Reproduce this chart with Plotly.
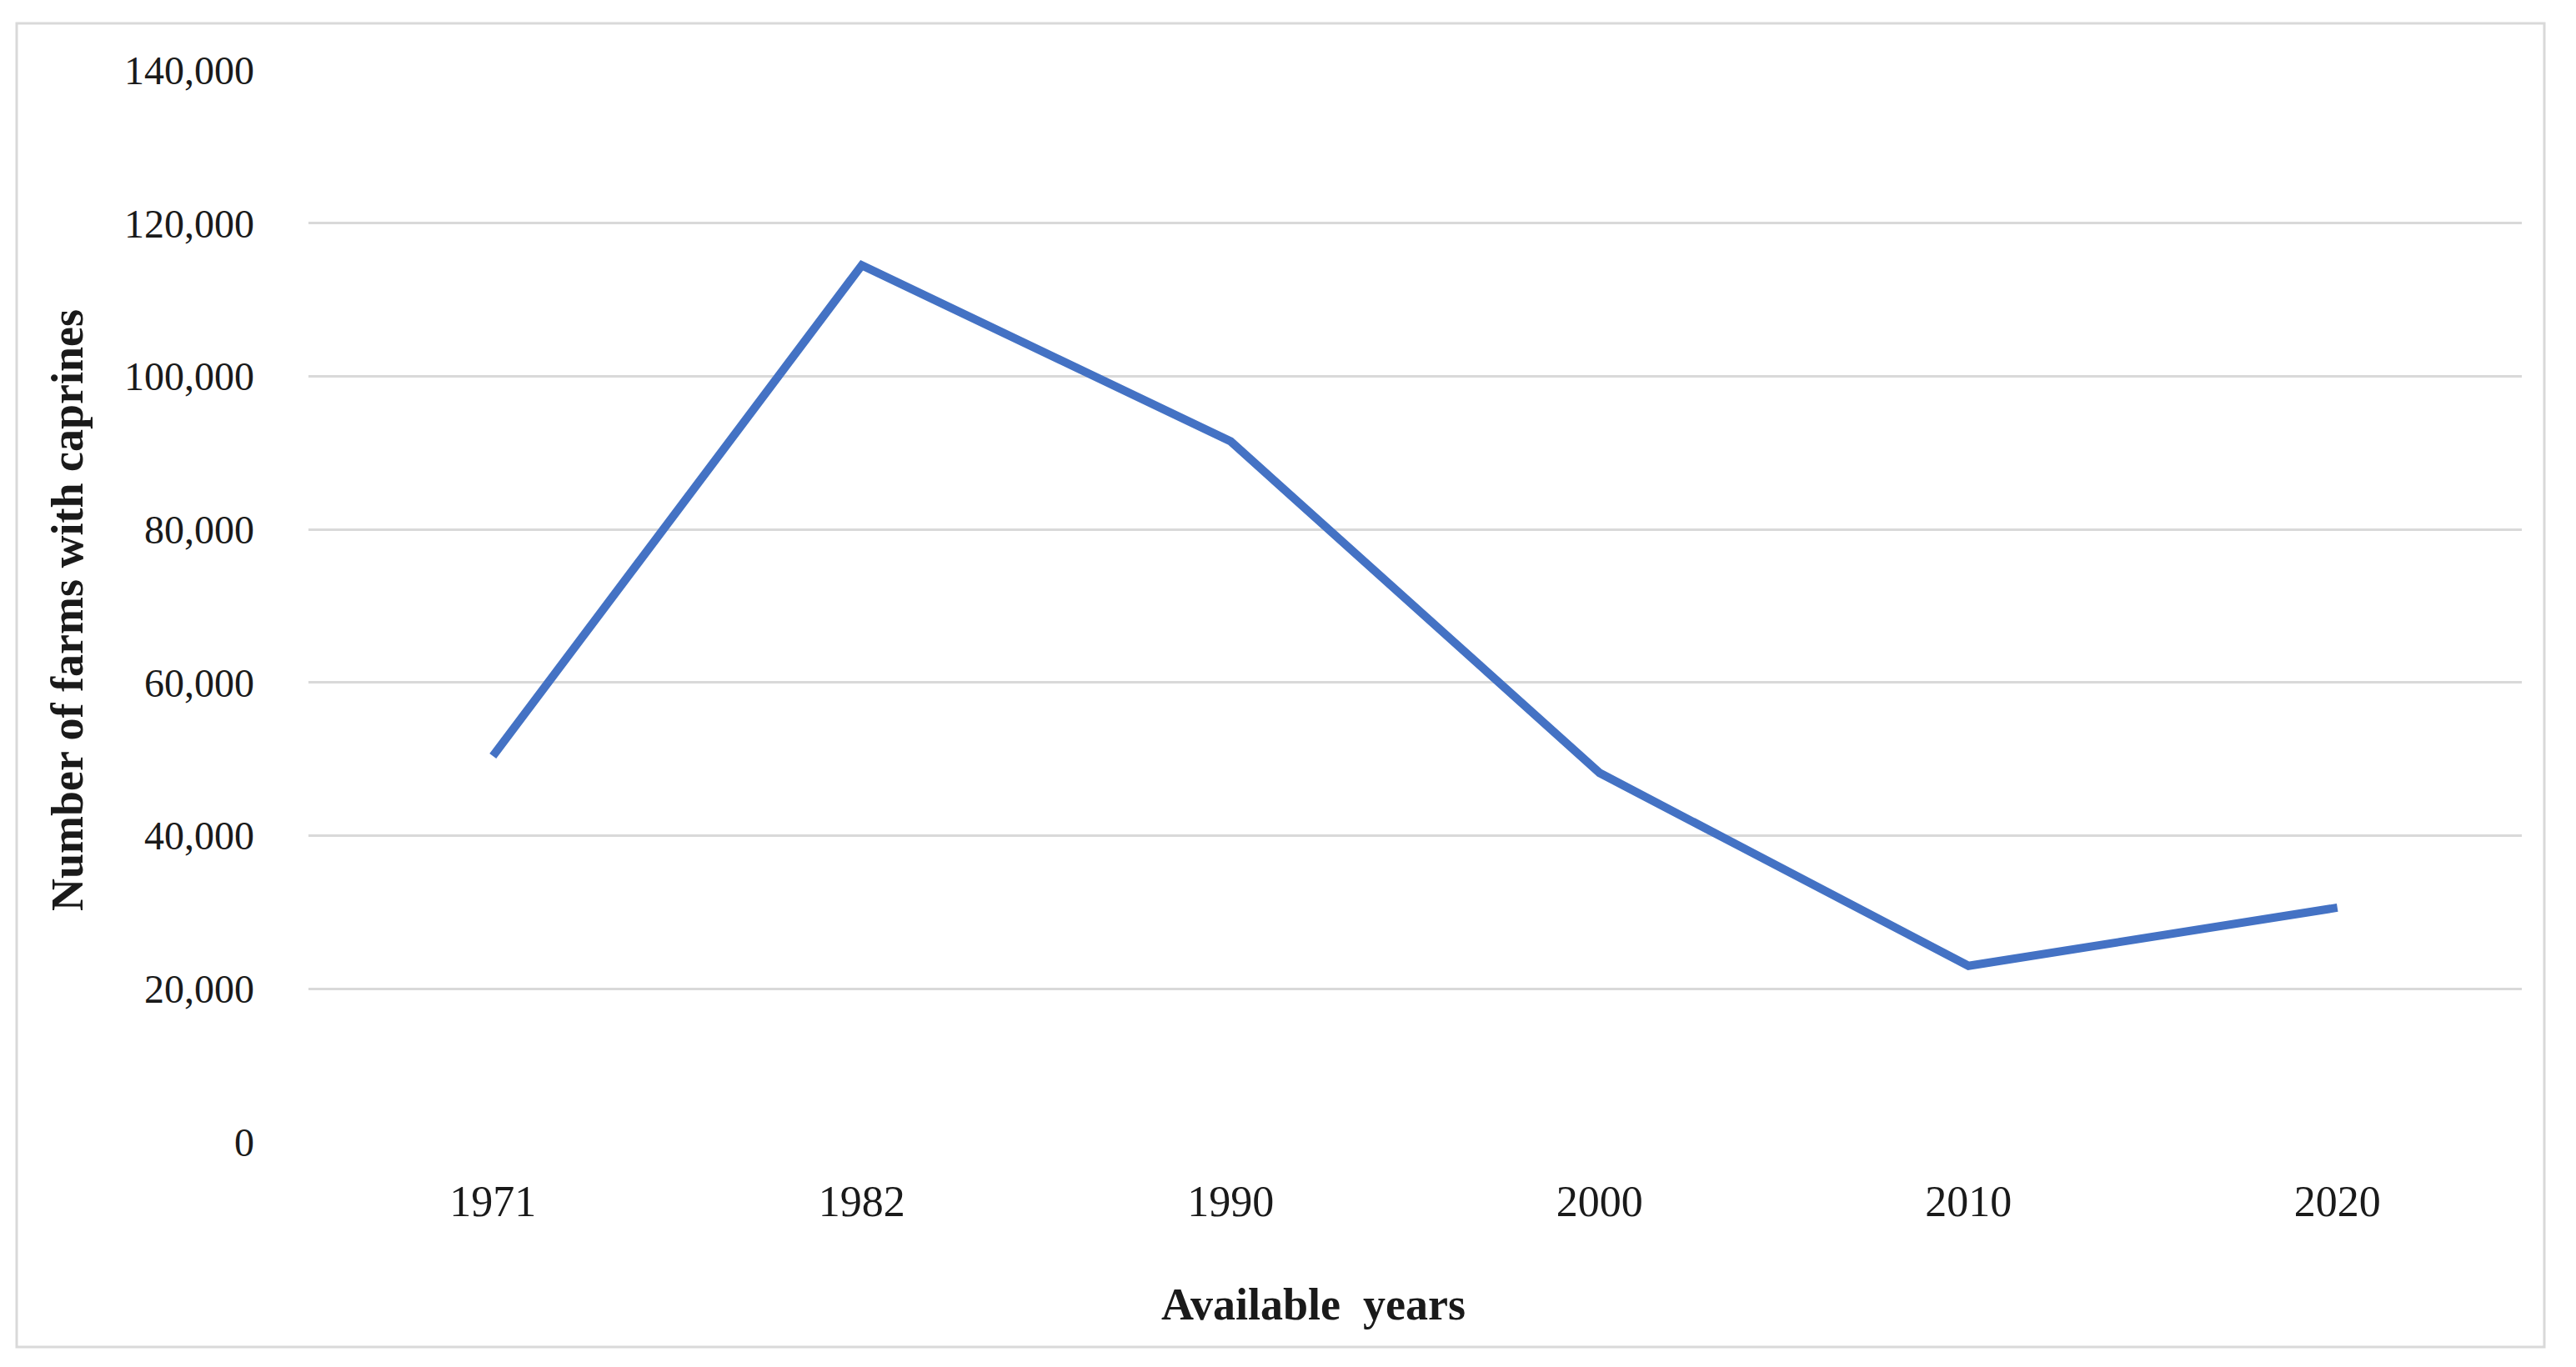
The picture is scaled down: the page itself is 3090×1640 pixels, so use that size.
import plotly.graph_objects as go

years = ["1971", "1982", "1990", "2000", "2010", "2020"]
farms = [50400, 114500, 91500, 48200, 23000, 30600]
y_ticks = [0, 20000, 40000, 60000, 80000, 100000, 120000, 140000]
y_tick_labels = ["0", "20,000", "40,000", "60,000", "80,000", "100,000", "120,000", "140,000"]
y_title = "Number of farms with caprines"
x_title = "Available\u00a0 years"

# page body has an 8px default margin; compensate so the picture lines up
OFF = 8
W, H = 3090 - OFF, 1640 - OFF
L, R, T, B = 370 - OFF, 65, 84 - OFF, 270
pw, ph = W - L - R, H - T - B

def px_to_paper_x(px):
    return (px - OFF - L) / pw

def px_to_paper_y(py):
    return (H - B - (py - OFF)) / ph

fig = go.Figure()
fig.add_trace(go.Scatter(
    x=years, y=farms, mode="lines",
    line=dict(color="#4472C4", width=10),
    showlegend=False,
))

font_ticks = "Liberation Serif, Times New Roman, serif"

fig.update_layout(
    width=W, height=H,
    margin=dict(l=L, r=R, t=T, b=B),
    paper_bgcolor="white", plot_bgcolor="white",
    xaxis=dict(
        type="category", range=[-0.5, 5.5],
        showgrid=False, zeroline=False, showline=False,
        ticks="", ticklabelstandoff=36,
        tickfont=dict(family=font_ticks, size=52, color="#1a1a1a"),
    ),
    yaxis=dict(
        range=[0, 140000], tickvals=y_ticks, ticktext=y_tick_labels,
        showgrid=True, gridcolor="#D9D9D9", gridwidth=3,
        zeroline=False, showline=False, ticks="",
        ticklabelstandoff=64,
        tickfont=dict(family=font_ticks, size=48, color="#1a1a1a"),
    ),
    annotations=[
        dict(text="<b>" + y_title + "</b>", xref="paper", yref="paper",
             x=px_to_paper_x(81), y=px_to_paper_y(732), textangle=-90,
             xanchor="center", yanchor="middle", showarrow=False,
             font=dict(family=font_ticks, size=54, color="#1a1a1a")),
        dict(text="<b>" + x_title + "</b>", xref="paper", yref="paper",
             x=px_to_paper_x(1575), y=px_to_paper_y(1565),
             xanchor="center", yanchor="middle", showarrow=False,
             font=dict(family=font_ticks, size=54, color="#1a1a1a")),
    ],
    shapes=[
        dict(type="rect", xref="paper", yref="paper",
             x0=px_to_paper_x(20), x1=px_to_paper_x(3052),
             y0=px_to_paper_y(1616), y1=px_to_paper_y(28),
             line=dict(color="#D9D9D9", width=3), layer="below"),
    ],
)

fig.write_html("out.html")
